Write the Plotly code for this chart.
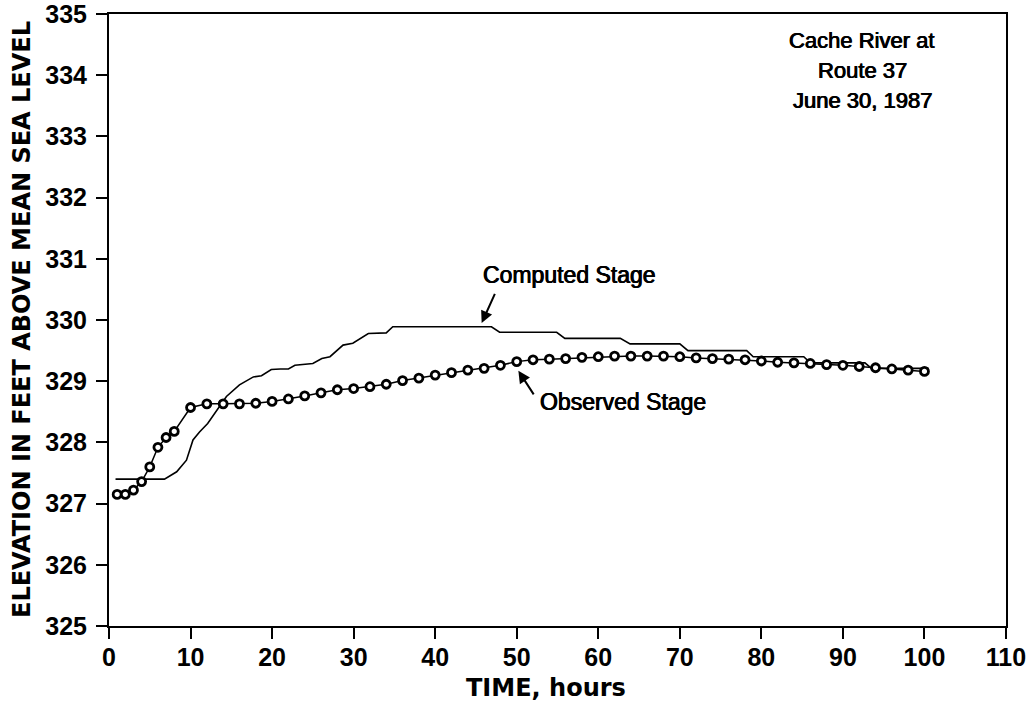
import plotly.graph_objects as go

# Observed stage (hourly early on, then every 2 hours)
obs_hours = [1, 2, 3, 4, 5, 6, 7, 8] + list(range(10, 101, 2))
obs_stage = [
    327.15, 327.15, 327.22, 327.36, 327.60, 327.92, 328.08, 328.18,
    328.57, 328.63, 328.63, 328.63, 328.64, 328.67, 328.71, 328.76,
    328.81, 328.86, 328.88, 328.91, 328.95, 329.01, 329.05, 329.10,
    329.14, 329.18, 329.21, 329.26, 329.32, 329.35, 329.36, 329.37,
    329.39, 329.40, 329.41, 329.41, 329.41, 329.41, 329.40, 329.38,
    329.37, 329.36, 329.35, 329.33, 329.31, 329.30, 329.29, 329.27,
    329.26, 329.24, 329.22, 329.20, 329.18, 329.16,
]

# Computed stage from the routing model
comp_hours = [
    0.8, 6.8, 8.3, 9.5, 10.3, 11.1, 12.1, 13.2, 14.4, 16.0, 17.7, 18.7,
    19.9, 21.0, 22.0, 22.8, 25.0, 26.1, 27.1, 28.7, 29.9, 31.8, 34.0,
    34.8, 46.9, 47.9, 54.9, 55.9, 62.7, 63.9, 70.0, 71.0, 78.2, 79.0,
    85.2, 86.0, 92.7, 93.5, 100.5,
]
comp_stage = [
    327.40, 327.40, 327.52, 327.71, 328.04, 328.17, 328.31, 328.53, 328.75,
    328.94, 329.07, 329.09, 329.19, 329.20, 329.20, 329.26, 329.29, 329.37,
    329.40, 329.59, 329.62, 329.78, 329.79, 329.89, 329.89, 329.80, 329.80,
    329.70, 329.70, 329.61, 329.61, 329.50, 329.50, 329.40, 329.40, 329.30,
    329.30, 329.21, 329.21,
]

x_ticks = list(range(0, 111, 10))
y_ticks = list(range(325, 336))

site_lines = ["Cache River at", "Route 37", "June 30, 1987"]

FONT = "Liberation Sans, Arial, sans-serif"
WIDE = "DejaVu Sans, Liberation Sans, sans-serif"
HEAVY = "0.45px 0 0 black, -0.45px 0 0 black"

fig = go.Figure()

fig.add_trace(go.Scatter(
    x=comp_hours, y=comp_stage, mode="lines",
    line=dict(color="black", width=1.6),
    showlegend=False, hoverinfo="skip",
))

fig.add_trace(go.Scatter(
    x=obs_hours, y=obs_stage, mode="lines+markers",
    line=dict(color="black", width=1.5),
    marker=dict(symbol="circle", size=8, color="white",
                line=dict(color="black", width=2.8)),
    showlegend=False, hoverinfo="skip",
))

# Labels with arrows
fig.add_annotation(
    x=45.7, y=329.95, ax=47.4, ay=330.45, xref="x", yref="y",
    axref="x", ayref="y", text="", showarrow=True,
    arrowhead=2, arrowsize=1.2, arrowwidth=2, arrowcolor="black",
)
fig.add_annotation(
    x=56.5, y=330.74, xref="x", yref="y", text="Computed Stage",
    showarrow=False,
    font=dict(family=FONT, size=23, color="black", shadow=HEAVY),
)
fig.add_annotation(
    x=50.2, y=329.17, ax=52.2, ay=328.76, xref="x", yref="y",
    axref="x", ayref="y", text="", showarrow=True,
    arrowhead=2, arrowsize=1.2, arrowwidth=2, arrowcolor="black",
)
fig.add_annotation(
    x=63.0, y=328.66, xref="x", yref="y", text="Observed Stage",
    showarrow=False,
    font=dict(family=FONT, size=23, color="black", shadow=HEAVY),
)

# Site / date label in the upper right
for i, line in enumerate(site_lines):
    fig.add_annotation(
        x=92.4, y=1, xref="x", yref="paper", yanchor="middle",
        yshift=-26 - 30 * i, text=line, showarrow=False,
        font=dict(family=FONT, size=22, color="black", shadow=HEAVY),
    )

# Axis titles
fig.add_annotation(
    x=0, y=0.5, xref="paper", yref="paper", xshift=-87,
    text="ELEVATION IN FEET ABOVE MEAN SEA LEVEL", textangle=-90,
    showarrow=False, xanchor="center", yanchor="middle",
    font=dict(family=WIDE, size=24, color="black", weight="bold"),
)
fig.add_annotation(
    x=0.5, y=0, xref="paper", yref="paper", yshift=-62, xshift=-12,
    text="TIME, hours", showarrow=False, xanchor="center", yanchor="middle",
    font=dict(family=WIDE, size=24, color="black", weight="bold"),
)

axis_common = dict(
    showgrid=False, zeroline=False, showline=True, linecolor="black",
    linewidth=2, mirror=True, ticks="outside", ticklen=11, tickwidth=2,
    tickcolor="black", ticklabeloverflow="allow", automargin=False,
    tickfont=dict(family=FONT, size=25, color="black", weight="bold"),
)

fig.update_xaxes(range=[0, 110], tickvals=x_ticks,
                 ticktext=[str(v) for v in x_ticks], ticklabelstandoff=-3,
                 **axis_common)
fig.update_yaxes(range=[325, 335], tickvals=y_ticks,
                 ticktext=[str(v) for v in y_ticks], ticklabelstandoff=4,
                 **axis_common)

fig.update_layout(
    width=1032, height=703,
    margin=dict(l=109, r=26, t=14, b=77),
    paper_bgcolor="white", plot_bgcolor="white",
)

fig.write_html("out.html")
